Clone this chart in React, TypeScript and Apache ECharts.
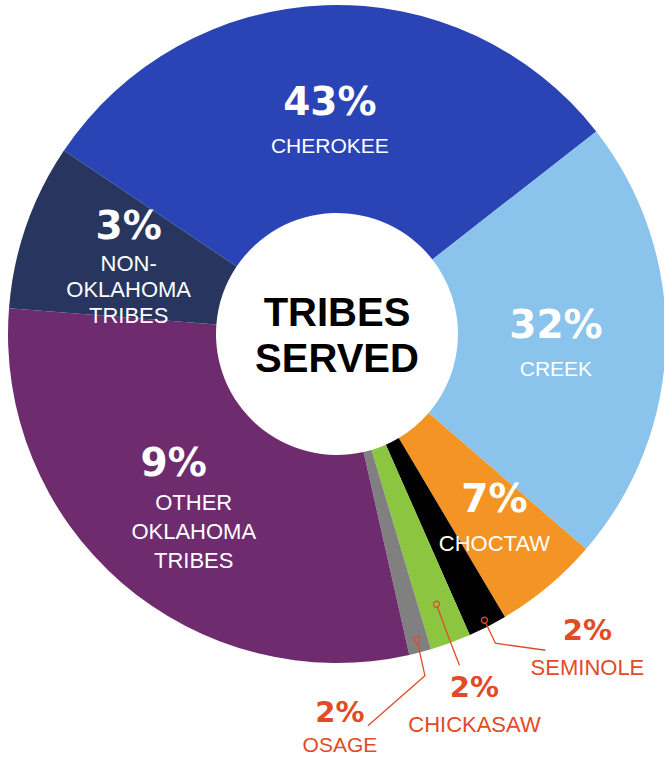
import React, { useEffect, useRef } from 'react';
import * as echarts from 'echarts';

// ---- data ----
const categories = ['Cherokee', 'Creek', 'Choctaw', 'Seminole', 'Chickasaw', 'Osage', 'Other Oklahoma Tribes', 'Non-Oklahoma Tribes'];
const percentLabels = [43, 32, 7, 2, 2, 2, 9, 3];
// visual size of each slice in the picture (degrees of arc)
const sliceSpans = [108.1, 78.8, 18.5, 6.9, 7.2, 3.9, 107.2, 29.4];
const nameLines = [
  ['CHEROKEE'],
  ['CREEK'],
  ['CHOCTAW'],
  ['SEMINOLE'],
  ['CHICKASAW'],
  ['OSAGE'],
  ['OTHER', 'OKLAHOMA', 'TRIBES'],
  ['NON-', 'OKLAHOMA', 'TRIBES'],
];
const centerTitle = ['TRIBES', 'SERVED'];

// ---- styling ----
const sliceColors = ['#2B44B5', '#8AC4EC', '#F39424', '#000000', '#8CC540', '#808080', '#6E2C6F', '#28365F'];
const START_ANGLE = 146.1;
const CX = 337;
const CY = 334;
const R0 = 121;
const R1 = 329;
const CALLOUT_COLOR = '#E24B26';

const insideLayout: Record<number, { p: string; n: string; dx: number; dy: number }> = {
  0: { p: 'p', n: 'n', dx: 1, dy: 8 },
  1: { p: 'p', n: 'n', dx: -9, dy: -2 },
  2: { p: 'p', n: 'm', dx: 11, dy: 4 },
  6: { p: 'q9', n: 'm', dx: 6, dy: 0 },
  7: { p: 'q', n: 'k', dx: 7, dy: 5 },
};
const calloutLayout: Record<number, { r: number; elbow: number[]; end: number[]; label: number[]; p: string; n: string }> = {
  3: { r: 322, elbow: [11, 23], end: [61, 30], label: [103, 24], p: 'c', n: 'cn' },
  4: { r: 288, elbow: [11, 30], end: [23, 61], label: [38, 97], p: 'c', n: 'cn' },
  5: { r: 316, elbow: [8, 36], end: [-49, 86], label: [-77, 85], p: 'co', n: 'cno' },
};

const total = sliceSpans.reduce((a, b) => a + b, 0);
function midAngle(i: number) {
  let a = START_ANGLE;
  for (let j = 0; j < i; j++) a -= (sliceSpans[j] / total) * 360;
  return a - ((sliceSpans[i] / total) * 360) / 2;
}
function anchorPoint(i: number, r: number) {
  const rad = (midAngle(i) * Math.PI) / 180;
  return [CX + r * Math.cos(rad), CY - r * Math.sin(rad)];
}

const PCT_FONT = 'DejaVu Sans';
const NAME_FONT = 'Liberation Sans';

const rich: Record<string, any> = {
  p: { fontFamily: PCT_FONT, fontWeight: 'bold', fontSize: 39, lineHeight: 62, color: '#ffffff' },
  q: { fontFamily: PCT_FONT, fontWeight: 'bold', fontSize: 39, lineHeight: 50, color: '#ffffff' },
  q9: { fontFamily: PCT_FONT, fontWeight: 'bold', fontSize: 39, lineHeight: 50, color: '#ffffff', padding: [0, 40, 0, 0] },
  n: { fontFamily: NAME_FONT, fontSize: 21, lineHeight: 26, color: '#ffffff' },
  m: { fontFamily: NAME_FONT, fontSize: 22, lineHeight: 29, color: '#ffffff' },
  k: { fontFamily: NAME_FONT, fontSize: 22, lineHeight: 26, color: '#ffffff' },
  c: { fontFamily: PCT_FONT, fontWeight: 'bold', fontSize: 29, lineHeight: 46, color: CALLOUT_COLOR },
  cn: { fontFamily: NAME_FONT, fontSize: 22, lineHeight: 28, color: CALLOUT_COLOR },
  co: { fontFamily: PCT_FONT, fontWeight: 'bold', fontSize: 29, lineHeight: 40, color: CALLOUT_COLOR },
  cno: { fontFamily: NAME_FONT, fontSize: 21, lineHeight: 26, color: CALLOUT_COLOR },
};

function labelText(i: number) {
  const s = insideLayout[i] || calloutLayout[i];
  return [`{${s.p}|${percentLabels[i]}%}`, ...nameLines[i].map((l) => `{${s.n}|${l}}`)].join('\n');
}

export default function App() {
  const ref = useRef<HTMLDivElement>(null);
  useEffect(() => {
    if (!ref.current) return;
    const chart = echarts.init(ref.current, undefined, { renderer: 'svg' });

    const data = categories.map((name, i) => {
      const isCallout = !!calloutLayout[i];
      return {
        name,
        value: sliceSpans[i],
        itemStyle: { color: sliceColors[i] },
        label: {
          show: true,
          position: isCallout ? 'outside' : 'inside',
          formatter: () => labelText(i),
          rich,
          align: 'center',
        },
        labelLine: { show: false },
      };
    });

    const calloutGraphics: any[] = [];
    Object.keys(calloutLayout).forEach((k) => {
      const i = Number(k);
      const c = calloutLayout[i];
      const a = anchorPoint(i, c.r);
      calloutGraphics.push({
        type: 'polyline',
        z: 100,
        shape: {
          points: [
            [a[0], a[1]],
            [a[0] + c.elbow[0], a[1] + c.elbow[1]],
            [a[0] + c.end[0], a[1] + c.end[1]],
          ],
        },
        style: { fill: 'none', stroke: CALLOUT_COLOR, lineWidth: 1.3 },
      });
      calloutGraphics.push({
        type: 'circle',
        z: 101,
        shape: { cx: a[0], cy: a[1], r: 3 },
        style: { fill: sliceColors[i], stroke: CALLOUT_COLOR, lineWidth: 1.3 },
      });
    });

    chart.setOption({
      animation: false,
      backgroundColor: '#ffffff',
      series: [
        {
          type: 'pie',
          center: [CX, CY],
          radius: [R0, R1],
          startAngle: START_ANGLE,
          clockwise: true,
          avoidLabelOverlap: false,
          silent: true,
          itemStyle: { borderWidth: 0 },
          data,
          labelLayout: (params: any) => {
            const i = params.dataIndex;
            const c = calloutLayout[i];
            if (c) {
              const a = anchorPoint(i, c.r);
              return {
                x: a[0] + c.label[0],
                y: a[1] + c.label[1],
                align: 'center',
                verticalAlign: 'middle',
              };
            }
            const s = insideLayout[i];
            if (s) return { dx: s.dx, dy: s.dy };
            return {};
          },
        },
      ],
      graphic: [
        {
          type: 'text',
          z: 100,
          x: CX,
          y: CY + 1,
          style: {
            text: centerTitle.join('\n'),
            fontFamily: 'Liberation Sans',
            fontWeight: 'bold',
            fontSize: 40,
            lineHeight: 46,
            fill: '#000000',
            align: 'center',
            verticalAlign: 'middle',
          },
        },
        ...calloutGraphics,
      ],
    });
    return () => chart.dispose();
  }, []);

  return (
    <div
      ref={ref}
      style={{ position: 'fixed', left: 0, top: 0, width: 664, height: 758, background: '#ffffff' }}
    />
  );
}
